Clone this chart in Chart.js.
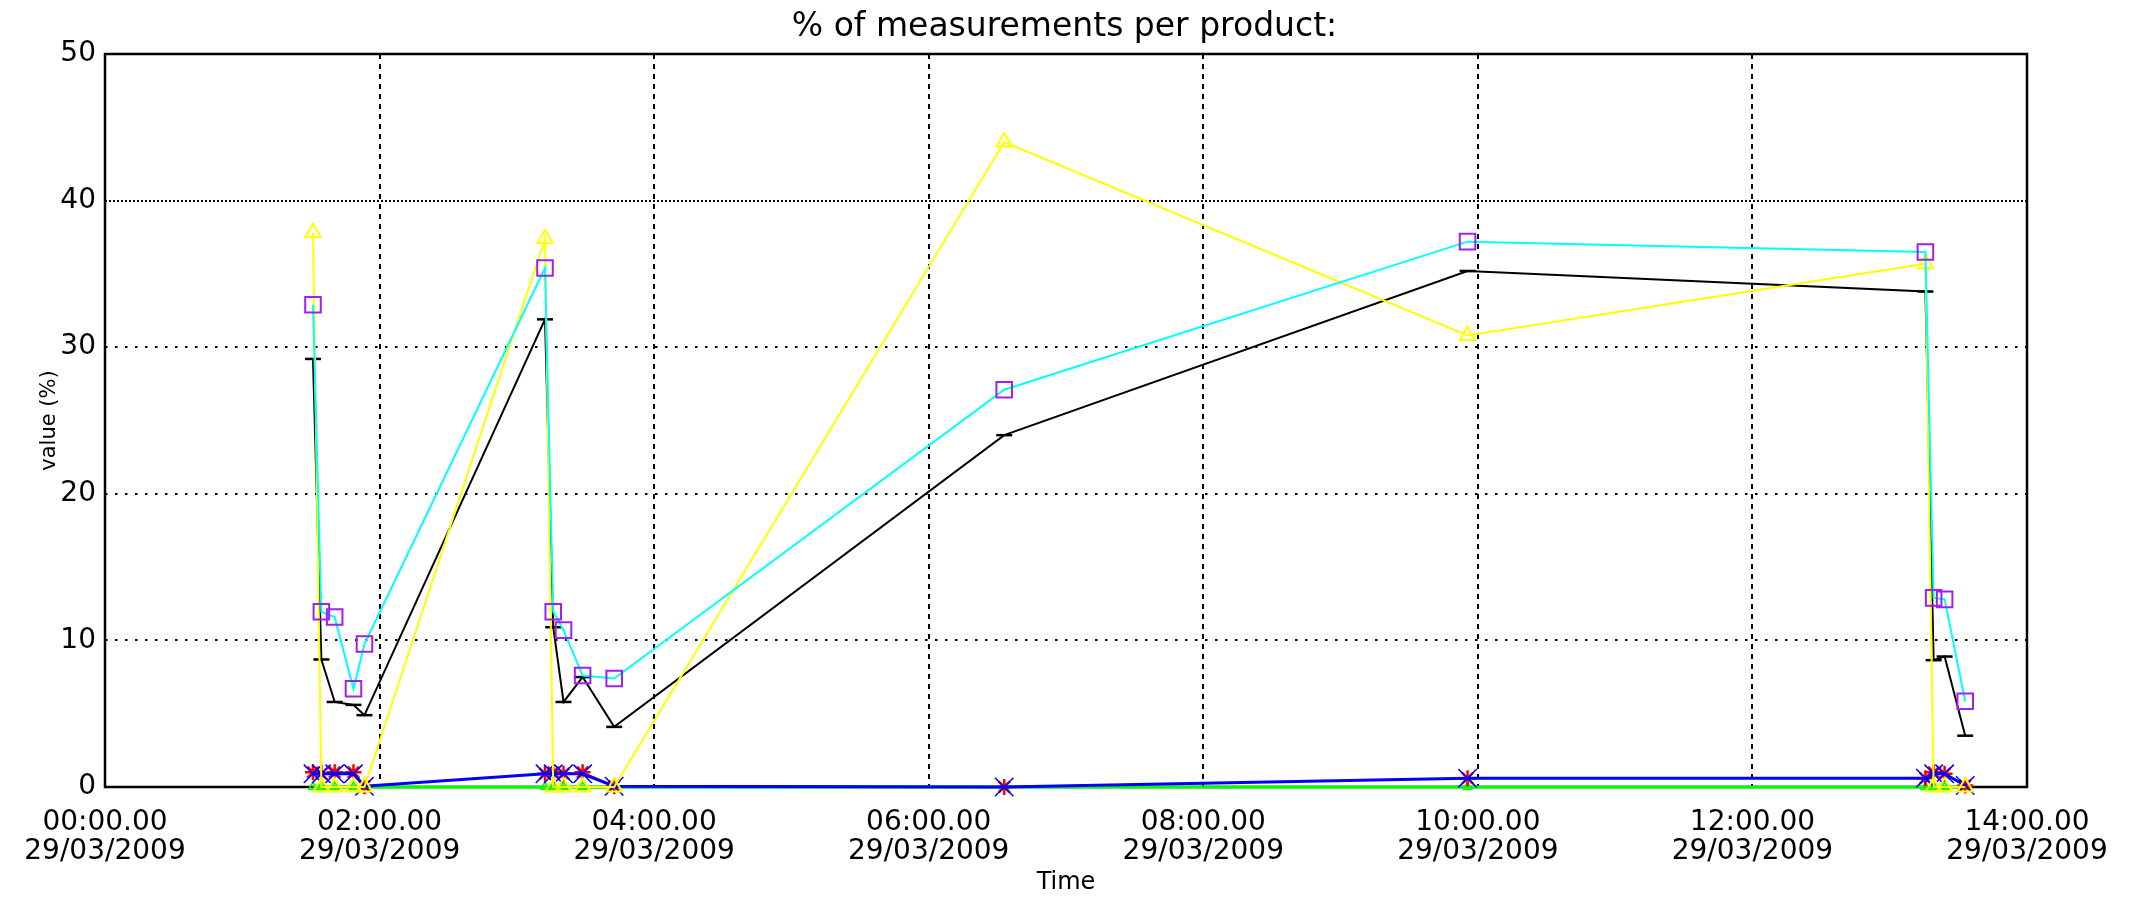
<!DOCTYPE html>
<html>
<head>
<meta charset="utf-8">
<title>% of measurements per product</title>
<script src="https://cdn.jsdelivr.net/npm/chart.js@4/dist/chart.umd.min.js"></script>
<style>
  html, body { margin: 0; padding: 0; background: #fff; }
  #wrap { width: 2129px; height: 910px; }
</style>
</head>
<body>
<div id="wrap"><canvas id="chart-sheet" width="2129" height="910"></canvas></div>
<script>
// measurement times, hours after 00:00 on 29/03/2009
var times = [1.515, 1.576, 1.673, 1.81, 1.89, 3.205, 3.265, 3.34, 3.479, 3.709, 6.55, 9.925, 13.26, 13.32, 13.4, 13.55];

// % of measurements per product (one array per product line)
var blackValues  = [29.2, 8.7, 5.8, 5.6, 4.9, 31.9, 10.9, 5.8, 7.5, 4.1, 24.0, 35.2, 33.8, 8.65, 8.9, 3.5];
var cyanValues   = [32.9, 11.95, 11.6, 6.7, 9.75, 35.4, 11.95, 10.7, 7.6, 7.4, 27.1, 37.2, 36.5, 12.9, 12.8, 5.85];
var yellowValues = [37.8, 0, 0, 0, 0, 37.4, 0, 0, 0, 0, 44.0, 30.8, 35.7, 0, 0, 0];
var blueValues   = [0.9, 0.9, 0.9, 0.9, 0.05, 0.9, 0.9, 0.9, 0.9, 0.05, 0, 0.6, 0.6, 0.9, 0.9, 0.1];
var redValues    = [1.0, 0.9, 1.0, 1.0, 0.05, 0.9, 1.0, 0.9, 1.0, 0.05, 0, 0.6, 0.6, 1.0, 0.9, 0.1];
var greenValues  = [0, 0, 0, 0, 0, 0, 0, 0, 0, 0, 0, 0, 0, 0, 0, 0];

// axis ticks
var hourTicks = [0, 2, 4, 6, 8, 10, 12, 14];
var valueTicks = [0, 10, 20, 30, 40, 50];
var dateLabel = '29/03/2009';

var FONT = "'DejaVu Sans', sans-serif";

// pairs times with one series
function points(values) {
    var out = [];
    for (var i = 0; i < times.length; i++) {
        out.push({x: times[i], y: values[i]});
    }
    return out;
}

// dotted grid + black frame, drawn under the lines
var framePlugin = {
    id: 'frame',
    beforeDatasetsDraw: function (chart) {
        var ctx = chart.ctx;
        var a = chart.chartArea;
        var x = chart.scales.x;
        var y = chart.scales.y;
        ctx.save();
        ctx.strokeStyle = '#000';
        ctx.lineWidth = 2;

        // vertical dashed grid
        ctx.setLineDash([5, 5]);
        hourTicks.forEach(function (h) {
            if (h === hourTicks[0] || h === hourTicks[hourTicks.length - 1]) return;
            var px = Math.round(x.getPixelForValue(h));
            ctx.beginPath();
            ctx.moveTo(px, a.top);
            ctx.lineTo(px, a.bottom);
            ctx.stroke();
        });

        // horizontal dotted grid (the 40 line is finer in the original)
        valueTicks.forEach(function (v) {
            if (v === valueTicks[0] || v === valueTicks[valueTicks.length - 1]) return;
            ctx.setLineDash(v === 40 ? [2, 2] : [2.5, 7.5]);
            var py = Math.round(y.getPixelForValue(v));
            ctx.beginPath();
            ctx.moveTo(a.left, py);
            ctx.lineTo(a.right, py);
            ctx.stroke();
        });

        ctx.setLineDash([]);
        ctx.lineWidth = 2.5;
        ctx.strokeRect(a.left, a.top, a.right - a.left, a.bottom - a.top);
        ctx.restore();
    }
};

var chart = new Chart(document.getElementById('chart-sheet').getContext('2d'), {
    type: 'scatter',
    data: {
        datasets: [{
            label: 'cyan',
            data: points(cyanValues),
            showLine: true,
            borderColor: '#00ffff',
            borderWidth: 2,
            pointStyle: 'rect',
            pointRadius: 11,
            pointBorderColor: '#a020f0',
            pointBackgroundColor: 'rgba(0,0,0,0)',
            pointBorderWidth: 2,
            order: 0
        }, {
            label: 'yellow',
            data: points(yellowValues),
            showLine: true,
            borderColor: '#ffff00',
            borderWidth: 2,
            pointStyle: 'triangle',
            pointRadius: 9,
            pointBorderColor: '#ffff00',
            pointBackgroundColor: 'rgba(0,0,0,0)',
            pointBorderWidth: 2,
            order: 1
        }, {
            label: 'black',
            data: points(blackValues),
            showLine: true,
            borderColor: '#000000',
            borderWidth: 2,
            pointStyle: 'line',
            pointRadius: 8,
            pointBorderColor: '#000000',
            pointBorderWidth: 2.5,
            order: 2
        }, {
            label: 'blue',
            data: points(blueValues),
            showLine: true,
            borderColor: '#0000ff',
            borderWidth: 3,
            pointStyle: 'crossRot',
            pointRadius: 13,
            pointBorderColor: '#0000ff',
            pointBorderWidth: 1.5,
            order: 3
        }, {
            label: 'red',
            data: points(redValues),
            showLine: true,
            borderColor: '#ff0000',
            borderWidth: 1.5,
            pointStyle: 'star',
            pointRadius: 8,
            pointBorderColor: '#ff0000',
            pointBorderWidth: 2.5,
            order: 4
        }, {
            label: 'green',
            data: points(greenValues),
            showLine: true,
            borderColor: '#00ff00',
            borderWidth: 3,
            pointStyle: 'triangle',
            pointRadius: 5,
            pointBorderColor: '#00ff00',
            pointBackgroundColor: 'rgba(0,0,0,0)',
            pointBorderWidth: 1.5,
            order: 5
        }]
    },
    options: {
        responsive: false,
        animation: false,
        clip: false,
        layout: { padding: 0 },
        plugins: {
            legend: { display: false },
            tooltip: { enabled: false },
            title: {
                display: true,
                text: '% of measurements per product:',
                color: '#000',
                font: { family: FONT, size: 33, weight: 'normal', lineHeight: 1.2 },
                padding: { top: 8, bottom: 6.4 }
            }
        },
        scales: {
            x: {
                type: 'linear',
                min: hourTicks[0],
                max: hourTicks[hourTicks.length - 1],
                afterBuildTicks: function (scale) {
                    scale.ticks = hourTicks.map(function (h) { return {value: h}; });
                },
                afterFit: function (scale) { scale.height = 123; },
                grid: { display: false, drawTicks: false },
                border: { display: false },
                ticks: {
                    color: '#000',
                    padding: 21,
                    maxRotation: 0,
                    autoSkip: false,
                    font: { family: FONT, size: 28, lineHeight: 1.04 },
                    callback: function (value) {
                        var hh = String(value).padStart(2, '0');
                        return [hh + ':00.00', dateLabel];
                    }
                },
                title: {
                    display: true,
                    text: 'Time',
                    color: '#000',
                    font: { family: FONT, size: 24, lineHeight: 1.2 },
                    padding: { top: 0, bottom: 13 }
                }
            },
            y: {
                min: valueTicks[0],
                max: valueTicks[valueTicks.length - 1],
                afterBuildTicks: function (scale) {
                    scale.ticks = valueTicks.map(function (v) { return {value: v}; });
                },
                afterFit: function (scale) { scale.width = 105; },
                grid: { display: false, drawTicks: false },
                border: { display: false },
                ticks: {
                    color: '#000',
                    padding: 9,
                    font: { family: FONT, size: 28 }
                },
                title: {
                    display: true,
                    text: 'value (%)',
                    color: '#000',
                    font: { family: FONT, size: 21, lineHeight: 1.2 },
                    padding: { top: 37, bottom: 0 }
                }
            },
            // empty right-hand strip so the plot ends at the same place as the original
            spacer: {
                position: 'right',
                min: 0,
                max: 50,
                grid: { display: false, drawTicks: false },
                border: { display: false },
                ticks: { display: false },
                afterFit: function (scale) { scale.width = 102; }
            }
        }
    },
    plugins: [framePlugin]
});
</script>
</body>
</html>
